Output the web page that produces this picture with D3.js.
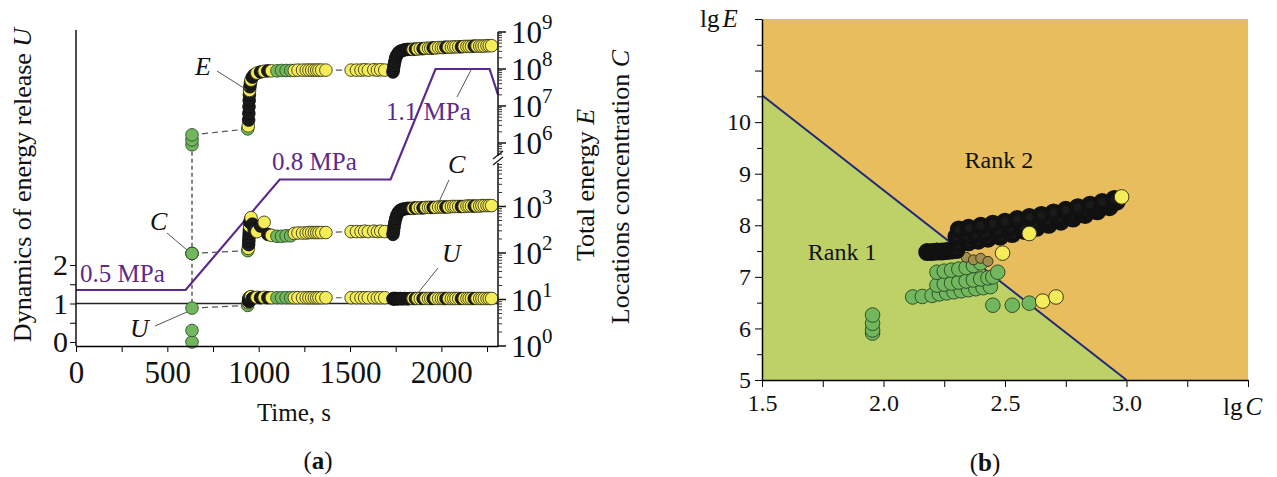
<!DOCTYPE html>
<html>
<head>
<meta charset="utf-8">
<script src="https://cdn.jsdelivr.net/npm/d3@7"></script>
<style>
body { margin: 0; background: #fff; }
svg text { font-family: "Liberation Serif", "DejaVu Serif", serif; fill: #111; }
</style>
</head>
<body>
<script>
// panel (a): acoustic events, time in s, lg of total energy, lg of concentration, U
var evTime = [635, 635, 635,
	940, 943, 945, 946, 947, 948, 949, 950, 952, 955, 958, 965, 975, 990, 1010, 1030, 1050,
	1070, 1100, 1125, 1150, 1175, 1195, 1215, 1240, 1260, 1275, 1290, 1305, 1318, 1330, 1345, 1368,
	1506, 1535, 1560, 1580, 1600, 1630, 1650, 1668, 1690,
	1735, 1738, 1741, 1745, 1750, 1757, 1765, 1775, 1787, 1800, 1815, 1830,
	1845, 1858, 1870, 1885, 1900, 1915, 1930, 1942, 1955, 1970, 1985, 2000, 2012, 2025, 2040, 2055,
	2068, 2080, 2095, 2110, 2125, 2140, 2152, 2165, 2180, 2195, 2210, 2222, 2235, 2250, 2262, 2275];
var evLgE = [5.95, 6.08, 6.22,
	6.38, 6.46, 6.62, 6.80, 6.98, 7.15, 7.30, 7.42, 7.52, 7.62, 7.70, 7.78, 7.84, 7.89, 7.92, 7.94, 7.95,
	7.95, 7.95, 7.96, 7.96, 7.96, 7.96, 7.97, 7.97, 7.97, 7.97, 7.97, 7.97, 7.97, 7.97, 7.97, 7.97,
	7.97, 7.97, 7.97, 7.98, 7.97, 7.98, 7.97, 7.98, 7.97,
	7.92, 8.00, 8.10, 8.20, 8.30, 8.38, 8.44, 8.48, 8.50, 8.52, 8.53, 8.53,
	8.53, 8.54, 8.54, 8.55, 8.55, 8.56, 8.56, 8.56, 8.57, 8.57, 8.58, 8.58, 8.58, 8.59, 8.59, 8.59,
	8.60, 8.60, 8.60, 8.60, 8.61, 8.61, 8.61, 8.61, 8.62, 8.62, 8.62, 8.62, 8.62, 8.63, 8.63, 8.63];
var evLgC = [1.99, 1.99, 1.99,
	2.05, 2.10, 2.18, 2.26, 2.34, 2.42, 2.50, 2.58, 2.66, 2.72, 2.76, 2.62, 2.52, 2.46, 2.58, 2.66, 2.40,
	2.38, 2.36, 2.36, 2.37, 2.37, 2.42, 2.43, 2.43, 2.43, 2.44, 2.44, 2.44, 2.44, 2.44, 2.44, 2.44,
	2.46, 2.46, 2.46, 2.47, 2.46, 2.47, 2.46, 2.47, 2.46,
	2.40, 2.47, 2.56, 2.65, 2.74, 2.82, 2.88, 2.92, 2.94, 2.95, 2.96, 2.96,
	2.96, 2.97, 2.97, 2.97, 2.97, 2.98, 2.98, 2.98, 2.98, 2.98, 2.99, 2.99, 2.99, 2.99, 2.99, 3.00,
	3.00, 3.00, 3.00, 3.00, 3.00, 3.01, 3.01, 3.01, 3.01, 3.01, 3.01, 3.02, 3.02, 3.02, 3.02, 3.02];
var evU = [0.00, 0.30, 0.88,
	0.95, 1.02, 1.08, 1.12, 1.05, 1.15, 1.10, 1.16, 1.12, 1.15, 1.18, 1.13, 1.15, 1.16, 1.15, 1.16, 1.15,
	1.15, 1.15, 1.15, 1.15, 1.15, 1.15, 1.15, 1.15, 1.15, 1.15, 1.15, 1.15, 1.15, 1.15, 1.15, 1.15,
	1.15, 1.15, 1.15, 1.15, 1.15, 1.15, 1.15, 1.15, 1.15,
	1.12, 1.13, 1.12, 1.13, 1.12, 1.13, 1.12, 1.13, 1.12, 1.13, 1.12, 1.13,
	1.13, 1.13, 1.13, 1.13, 1.13, 1.13, 1.13, 1.13, 1.13, 1.13, 1.13, 1.13, 1.13, 1.13, 1.13, 1.13,
	1.13, 1.13, 1.13, 1.13, 1.13, 1.13, 1.13, 1.13, 1.13, 1.13, 1.13, 1.13, 1.13, 1.13, 1.13, 1.13];
// g = green, y = yellow, k = black
var evClass = ["g", "g", "g",
	"g", "y", "k", "k", "k", "k", "k", "y", "k", "k", "y", "k", "k", "y", "k", "y", "k",
	"y", "g", "g", "g", "g", "y", "y", "y", "y", "y", "y", "y", "y", "y", "y", "y",
	"y", "y", "y", "y", "y", "y", "y", "y", "y",
	"k", "k", "k", "k", "k", "k", "k", "k", "k", "k", "k", "k",
	"y", "k", "y", "y", "k", "y", "y", "y", "k", "y", "y", "y", "y", "k", "y", "y",
	"y", "y", "y", "k", "y", "y", "y", "y", "k", "y", "y", "y", "y", "y", "y", "y"];

// loading pressure steps
var pressTime = [0, 600, 1115, 1722, 1968, 2264, 2310];
var pressMPa = [0.5, 0.5, 0.8, 0.8, 1.1, 1.1, 1.03];

var timeTicks = [0, 500, 1000, 1500, 2000];
var uTicks = [0, 1, 2];
var logTicks = [0, 1, 2, 3, 6, 7, 8, 9];

// panel (b): lgC / lgE of events
var bGreenC = [1.955, 1.955, 1.955, 1.955,
	2.12, 2.16, 2.20, 2.23, 2.26, 2.29, 2.32, 2.35, 2.38, 2.41, 2.44,
	2.22, 2.25, 2.28, 2.31, 2.34, 2.37, 2.40, 2.43, 2.45,
	2.22, 2.25, 2.28, 2.31, 2.34, 2.37, 2.40, 2.47,
	2.45, 2.53, 2.60];
var bGreenE = [5.91, 5.97, 6.10, 6.26,
	6.61, 6.62, 6.64, 6.67, 6.69, 6.71, 6.73, 6.75, 6.77, 6.79, 6.81,
	6.84, 6.86, 6.88, 6.90, 6.92, 6.94, 6.96, 6.98, 7.00,
	7.09, 7.11, 7.13, 7.15, 7.18, 7.22, 7.27, 7.09,
	6.45, 6.45, 6.49];
var bBlackC = [2.18, 2.20, 2.22, 2.24, 2.26, 2.28, 2.30,
	2.31, 2.35, 2.39, 2.43, 2.48, 2.53, 2.58, 2.63, 2.68, 2.73, 2.78, 2.83, 2.88, 2.93,
	2.30, 2.34, 2.38, 2.42, 2.47, 2.52, 2.57, 2.62, 2.67, 2.72, 2.77, 2.82, 2.87, 2.92, 2.96,
	2.31, 2.35, 2.40, 2.45, 2.50, 2.55, 2.60, 2.65, 2.70, 2.75, 2.80, 2.85, 2.90, 2.95];
var bBlackE = [7.48, 7.48, 7.49, 7.49, 7.50, 7.51, 7.52,
	7.64, 7.67, 7.70, 7.74, 7.78, 7.83, 7.89, 7.95, 8.01, 8.07, 8.13, 8.20, 8.27, 8.35,
	7.78, 7.80, 7.83, 7.86, 7.90, 7.95, 8.00, 8.05, 8.10, 8.15, 8.21, 8.27, 8.33, 8.40, 8.46,
	7.92, 7.95, 7.99, 8.03, 8.07, 8.12, 8.16, 8.20, 8.25, 8.30, 8.35, 8.40, 8.45, 8.51];
var bMixC = [2.34, 2.37, 2.40, 2.43];
var bMixE = [7.38, 7.33, 7.36, 7.30];
var bYellowC = [2.49, 2.60, 2.98, 2.655, 2.71];
var bYellowE = [7.46, 7.84, 8.55, 6.53, 6.61];
// boundary between the two ranks
var rankLineC = [1.5, 3.0];
var rankLineE = [10.52, 5.0];

var fills = {g: "#72b65e", y: "#f4ec58", k: "#1a1a1a", m: "#a08f4c"};
var strokes = {g: "#2e5228", y: "#3b3a1c", k: "#111", m: "#3a3320"};

var svg = d3.select("body").append("svg")
	.attr("width", 1277)
	.attr("height", 477);

draw_panel_a();
draw_panel_b();

function draw_panel_a() {
	var x = d3.scaleLinear().domain([0, 2310]).range([76, 498]);
	var yU = d3.scaleLinear().domain([0, 1]).range([342, 303.5]);
	// broken log axis: lower part 10^0..10^4, upper part from the break up to 10^9
	var yLog = d3.scaleLinear().domain([0, 4, 5.54, 9]).range([346, 160, 160, 32]);
	var yP = d3.scaleLinear().domain([0.5, 1.1]).range([290, 69]);

	var g = svg.append("g");

	// U = 1 reference line
	g.append("line")
		.attr("x1", x(0)).attr("x2", x(2310))
		.attr("y1", yU(1)).attr("y2", yU(1))
		.attr("stroke", "#222").attr("stroke-width", 1.3);

	// pressure curve
	var pline = d3.line()
		.x(function(d) { return x(d[0]); })
		.y(function(d) { return yP(d[1]); });
	g.append("path")
		.datum(d3.zip(pressTime, pressMPa))
		.attr("d", pline)
		.attr("fill", "none")
		.attr("stroke", "#5b2a8c")
		.attr("stroke-width", 2.2);

	var series = [
		{vals: evLgE, y: yLog},
		{vals: evLgC, y: yLog},
		{vals: evU, y: yU}
	];

	// vertical dashed line through the first burst
	var first = evTime[0];
	var idx0 = d3.range(evTime.length).filter(function(i) { return evTime[i] == first; });
	g.append("line")
		.attr("x1", x(first)).attr("x2", x(first))
		.attr("y1", d3.max(idx0, function(i) { return yLog(evLgE[i]); }))
		.attr("y2", d3.min(idx0, function(i) { return yU(evU[i]); }))
		.attr("stroke", "#333").attr("stroke-width", 1.2)
		.attr("stroke-dasharray", "4,3");

	// dashed connectors across gaps in time
	series.forEach(function(s) {
		for (var i = 1; i < evTime.length; i++) {
			if (evTime[i] - evTime[i-1] > 100) {
				g.append("line")
					.attr("x1", x(evTime[i-1])).attr("y1", s.y(s.vals[i-1]))
					.attr("x2", x(evTime[i])).attr("y2", s.y(s.vals[i]))
					.attr("stroke", "#555").attr("stroke-width", 1.2)
					.attr("stroke-dasharray", "6,4");
			}
		}
	});

	series.forEach(function(s) {
		g.append("g").selectAll("circle")
			.data(evTime)
			.enter()
			.append("circle")
			.attr("cx", function(d) { return x(d); })
			.attr("cy", function(d, i) { return s.y(s.vals[i]); })
			.attr("r", 6.3)
			.attr("fill", function(d, i) { return fills[evClass[i]]; })
			.attr("stroke", function(d, i) { return strokes[evClass[i]]; })
			.attr("stroke-width", 0.9);
	});

	// bottom axis
	var xAxis = g.append("g")
		.attr("transform", "translate(0,346)")
		.call(d3.axisBottom(x)
			.tickValues(d3.range(0, 2301, 250))
			.tickSize(6)
			.tickSizeOuter(0)
			.tickFormat(function(d) { return timeTicks.indexOf(d) >= 0 ? d : ""; }));
	xAxis.select(".domain").attr("stroke-width", 1.5);
	xAxis.selectAll("text").style("font-size", "31px").attr("y", 15).attr("fill", "#111");

	// left axis
	g.append("line")
		.attr("x1", 76).attr("x2", 76).attr("y1", 30).attr("y2", 346)
		.attr("stroke", "#111").attr("stroke-width", 1.5);
	var uAxis = g.append("g")
		.attr("transform", "translate(76,0)")
		.call(d3.axisLeft(yU)
			.tickValues([0, 0.5, 1, 1.5, 2])
			.tickSize(6)
			.tickFormat(function(d) { return uTicks.indexOf(d) >= 0 ? d : ""; }));
	uAxis.select(".domain").remove();
	uAxis.selectAll("text").style("font-size", "30px").attr("x", -8).attr("fill", "#111");

	// right log axis with break
	var ax = 498;
	g.append("line")
		.attr("x1", ax).attr("x2", ax).attr("y1", 32).attr("y2", 346)
		.attr("stroke", "#111").attr("stroke-width", 1.5);
	var minor = [];
	[0, 1, 2, 3, 5, 6, 7, 8].forEach(function(dec) {
		for (var k = 2; k < 10; k++) {
			var v = dec + Math.log10(k);
			if ((v < 4) || (v > 5.6 && v < 9)) minor.push(v);
		}
	});
	g.append("g").selectAll("line")
		.data(minor)
		.enter()
		.append("line")
		.attr("x1", ax).attr("x2", ax + 4)
		.attr("y1", function(d) { return yLog(d); })
		.attr("y2", function(d) { return yLog(d); })
		.attr("stroke", "#333").attr("stroke-width", 1);
	g.append("g").selectAll("line")
		.data(logTicks)
		.enter()
		.append("line")
		.attr("x1", ax).attr("x2", ax + 8)
		.attr("y1", function(d) { return yLog(d); })
		.attr("y2", function(d) { return yLog(d); })
		.attr("stroke", "#111").attr("stroke-width", 1.5);
	var lt = g.append("g").selectAll("text")
		.data(logTicks)
		.enter()
		.append("text")
		.attr("x", ax + 13)
		.attr("y", function(d) { return yLog(d) + 11; })
		.style("font-size", "31px");
	lt.append("tspan").text("10");
	lt.append("tspan")
		.attr("dy", -14)
		.style("font-size", "21px")
		.text(function(d) { return d; });

	// break mark
	g.append("rect")
		.attr("x", ax - 6).attr("y", 156).attr("width", 12).attr("height", 7)
		.attr("fill", "#fff");
	[155, 161].forEach(function(yy) {
		g.append("line")
			.attr("x1", ax - 5).attr("y1", yy + 4)
			.attr("x2", ax + 5).attr("y2", yy - 4)
			.attr("stroke", "#111").attr("stroke-width", 1.3);
	});

	// axis titles
	g.append("text")
		.attr("transform", "translate(31,185) rotate(-90)")
		.attr("text-anchor", "middle")
		.style("font-size", "26px")
		.html('Dynamics of energy release <tspan font-style="italic">U</tspan>');
	g.append("text")
		.attr("transform", "translate(594,185) rotate(-90)")
		.attr("text-anchor", "middle")
		.style("font-size", "26px")
		.html('Total energy <tspan font-style="italic">E</tspan>');
	g.append("text")
		.attr("transform", "translate(629,187) rotate(-90)")
		.attr("text-anchor", "middle")
		.style("font-size", "26px")
		.html('Locations concentration <tspan font-style="italic">C</tspan>');
	g.append("text")
		.attr("x", 294).attr("y", 421)
		.attr("text-anchor", "middle")
		.style("font-size", "25px")
		.text("Time, s");
	g.append("text")
		.attr("x", 318).attr("y", 469)
		.attr("text-anchor", "middle")
		.style("font-size", "25px")
		.html('(<tspan font-weight="bold">a</tspan>)');

	// pressure labels
	var plabels = [["0.5 MPa", 80, 282], ["0.8 MPa", 272, 170], ["1.1 MPa", 386, 120]];
	plabels.forEach(function(p) {
		g.append("text")
			.attr("x", p[1]).attr("y", p[2])
			.style("font-size", "25px")
			.style("fill", "#5b2a8c")
			.text(p[0]);
	});

	// series labels with leader lines
	var leaders = [
		["E", 195, 75, 217, 71, 247, 90],
		["C", 150, 230, 167, 233, 187, 250],
		["U", 130, 337, 155, 326, 187, 312],
		["C", 448, 173, 449, 180, 438, 204],
		["U", 442, 262, 438, 268, 418, 293]
	];
	leaders.forEach(function(l) {
		g.append("line")
			.attr("x1", l[3]).attr("y1", l[4]).attr("x2", l[5]).attr("y2", l[6])
			.attr("stroke", "#555").attr("stroke-width", 1);
		g.append("text")
			.attr("x", l[1]).attr("y", l[2])
			.style("font-size", "26px")
			.style("font-style", "italic")
			.text(l[0]);
	});
	g.append("line")
		.attr("x1", 457).attr("y1", 97).attr("x2", 471).attr("y2", 70)
		.attr("stroke", "#555").attr("stroke-width", 1);
}

function draw_panel_b() {
	var x = d3.scaleLinear().domain([1.5, 3.5]).range([762, 1248]);
	var y = d3.scaleLinear().domain([5, 12]).range([380, 19]);
	var g = svg.append("g");

	var poly = d3.line()
		.x(function(d) { return x(d[0]); })
		.y(function(d) { return y(d[1]); });

	// rank regions
	g.append("path")
		.datum([[1.5, 12], [3.5, 12], [3.5, 5], [rankLineC[1], rankLineE[1]], [rankLineC[0], rankLineE[0]]])
		.attr("d", function(d) { return poly(d) + "Z"; })
		.attr("fill", "#e7bd5d");
	g.append("path")
		.datum([[rankLineC[0], rankLineE[0]], [rankLineC[1], rankLineE[1]], [1.5, 5]])
		.attr("d", function(d) { return poly(d) + "Z"; })
		.attr("fill", "#bed166");
	g.append("path")
		.datum(d3.zip(rankLineC, rankLineE))
		.attr("d", poly)
		.attr("stroke", "#1f2a78")
		.attr("stroke-width", 2)
		.attr("fill", "none");

	function dots(cs, es, cls, r, sw) {
		g.append("g").selectAll("circle")
			.data(cs)
			.enter()
			.append("circle")
			.attr("cx", function(d) { return x(d); })
			.attr("cy", function(d, i) { return y(es[i]); })
			.attr("r", r)
			.attr("fill", fills[cls])
			.attr("stroke", strokes[cls])
			.attr("stroke-width", sw);
	}
	dots(bGreenC, bGreenE, "g", 7.3, 1);
	dots(bMixC, bMixE, "m", 5, 1);
	// the black cloud is so dense in the original that it reads as a solid band
	dots(bBlackC, bBlackE, "k", 6.5, 5);
	dots(bYellowC, bYellowE, "y", 7.3, 1);

	// axes
	var xAxis = g.append("g")
		.attr("transform", "translate(0,380)")
		.call(d3.axisBottom(x)
			.tickValues(d3.range(1.5, 3.51, 0.25))
			.tickSize(7)
			.tickSizeOuter(0)
			.tickFormat(function(d) {
				return (Math.abs(d * 2 - Math.round(d * 2)) < 1e-6 && d < 3.4) ? d3.format(".1f")(d) : "";
			}));
	xAxis.select(".domain").attr("stroke-width", 1.5);
	xAxis.selectAll("text").style("font-size", "24px").attr("y", 14).attr("fill", "#111");

	var yAxis = g.append("g")
		.attr("transform", "translate(762,0)")
		.call(d3.axisLeft(y)
			.tickValues(d3.range(5, 12.01, 0.5))
			.tickSize(5)
			.tickSizeOuter(0)
			.tickFormat(function(d) { return (d % 1 == 0 && d <= 10) ? d : ""; }));
	yAxis.select(".domain").attr("stroke-width", 1.5);
	yAxis.selectAll(".tick line").attr("x2", function(d) { return d % 1 == 0 ? -7 : -5; });
	yAxis.selectAll("text").style("font-size", "24px").attr("x", -11).attr("fill", "#111");

	g.append("text")
		.attr("x", 700).attr("y", 27)
		.style("font-size", "25px")
		.html('lg<tspan dx="3" font-style="italic">E</tspan>');
	g.append("text")
		.attr("x", 1223).attr("y", 415)
		.style("font-size", "25px")
		.html('lg<tspan dx="3" font-style="italic">C</tspan>');

	g.append("text")
		.attr("x", x(2.475)).attr("y", y(9.27) + 8)
		.attr("text-anchor", "middle")
		.style("font-size", "24px")
		.text("Rank 2");
	g.append("text")
		.attr("x", x(1.83)).attr("y", y(7.49) + 8)
		.attr("text-anchor", "middle")
		.style("font-size", "24px")
		.text("Rank 1");

	g.append("text")
		.attr("x", 985).attr("y", 471)
		.attr("text-anchor", "middle")
		.style("font-size", "25px")
		.html('(<tspan font-weight="bold">b</tspan>)');
}
</script>
</body>
</html>
